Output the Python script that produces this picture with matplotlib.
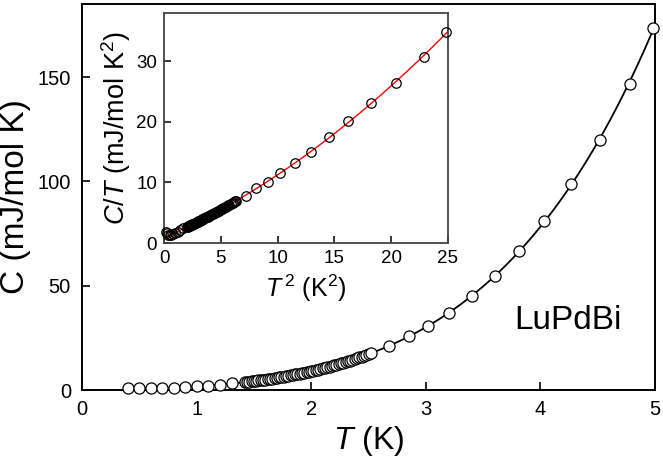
import numpy as np
import matplotlib.pyplot as plt

plt.rcParams['font.family'] = ['Liberation Sans', 'DejaVu Sans']
plt.rcParams['mathtext.fontset'] = 'custom'
plt.rcParams['mathtext.rm'] = 'Liberation Sans'
plt.rcParams['mathtext.it'] = 'Liberation Sans:italic'

# temperature (K) and specific heat C (mJ/mol K)
T_low = [0.40, 0.50, 0.60, 0.70, 0.80, 0.90, 1.00, 1.10, 1.20, 1.31]
C_low = [0.76, 0.80, 0.84, 0.95, 1.12, 1.35, 1.70, 2.09, 2.58, 3.21]

T_mid = [1.42, 1.44, 1.46, 1.48, 1.50, 1.52, 1.54, 1.56, 1.58, 1.60,
         1.62, 1.64, 1.66, 1.68, 1.70, 1.72, 1.74, 1.76, 1.78, 1.80,
         1.82, 1.84, 1.86, 1.88, 1.90, 1.92, 1.94, 1.96, 1.98, 2.00,
         2.02, 2.04, 2.06, 2.08, 2.10, 2.12, 2.14, 2.16, 2.18, 2.20,
         2.22, 2.24, 2.26, 2.28, 2.30, 2.32, 2.34, 2.36, 2.38, 2.40,
         2.42, 2.44, 2.46, 2.48, 2.50, 2.52]
C_mid = [3.75, 3.88, 4.01, 4.14, 4.28, 4.42, 4.57, 4.71, 4.87, 5.02,
         5.18, 5.35, 5.51, 5.69, 5.86, 6.04, 6.23, 6.42, 6.61, 6.81,
         7.01, 7.22, 7.43, 7.64, 7.86, 8.09, 8.32, 8.56, 8.80, 9.04,
         9.30, 9.55, 9.82, 10.08, 10.36, 10.64, 10.92, 11.21, 11.51, 11.81,
         12.12, 12.44, 12.76, 13.09, 13.42, 13.77, 14.11, 14.47, 14.83, 15.20,
         15.58, 15.96, 16.35, 16.75, 17.15, 17.56]

T_high = [2.68, 2.85, 3.02, 3.20, 3.40, 3.60, 3.81, 4.03, 4.27, 4.52, 4.78, 4.98]
C_high = [20.9, 25.9, 30.5, 37.1, 44.9, 54.4, 66.7, 81.0, 98.6, 119.8, 146.7, 173.3]

T = np.array(T_low + T_mid + T_high)
C = np.array(C_low + C_mid + C_high)

# inset: C/T against T^2
T2 = T ** 2
CT = C / T

# fit C/T = gamma + beta T^2 + delta T^4 (above the low-T upturn)
sel = T > 1.35
coef = np.polyfit(T2[sel], CT[sel], 2)
t_fit = np.linspace(0.4, 5, 300)
c_fit = t_fit * np.polyval(coef, t_fit ** 2)
x2_fit = np.linspace(0, 25, 300)
ct_fit = np.polyval(coef, x2_fit)

fig = plt.figure(figsize=(6.63, 4.70), dpi=100)
ax = fig.add_axes([82 / 663, 80 / 470, 573 / 663, 386 / 470])

ax.plot(t_fit, c_fit, color='black', lw=1.3, zorder=2)
ax.plot(T, C, 'o', ms=8, mfc='white', mec='black', mew=0.9, zorder=3, clip_on=False)

ax.set_xlim(0, 5)
ax.set_ylim(0, 185)
ax.set_xticks([0, 1, 2, 3, 4, 5])
ax.set_yticks([0, 50, 100, 150])
ax.tick_params(direction='in', length=6, width=1.2, labelsize=14.5, pad=7)
ax.tick_params(axis='y', pad=8)
for s in ax.spines.values():
    s.set_linewidth(1.4)
ax.set_xlabel(r'$\it{T}$ (K)', fontsize=23, labelpad=4)
ax.set_ylabel('C (mJ/mol K)', fontsize=24, labelpad=5)

ax.text(0.755, 0.18, 'LuPdBi', transform=ax.transAxes, fontsize=24,
        ha='left', va='center')

# inset
ins = fig.add_axes([164 / 663, 227 / 470, 284 / 663, 230 / 470])
ins.plot(x2_fit, ct_fit, color='red', lw=1.0, zorder=2)
ins.plot(T2, CT, 'o', ms=6.8, mfc='none', mec='black', mew=0.9, zorder=3, clip_on=False)
ins.set_xlim(0, 25)
ins.set_ylim(0, 38)
ins.set_xticks([0, 5, 10, 15, 20, 25])
ins.set_yticks([0, 10, 20, 30])
ins.tick_params(direction='in', length=5, width=1.1, labelsize=13.5, pad=5)
for s in ins.spines.values():
    s.set_linewidth(1.3)
    s.set_color('#444444')
ins.set_xlabel(r'$\it{T}^{\,2}$ (K$^2$)', fontsize=18, labelpad=4)
ins.set_ylabel(r'$\it{C/T}$ (mJ/mol K$^2$)', fontsize=19.5, labelpad=2)

fig.savefig('out.png', dpi=100)
